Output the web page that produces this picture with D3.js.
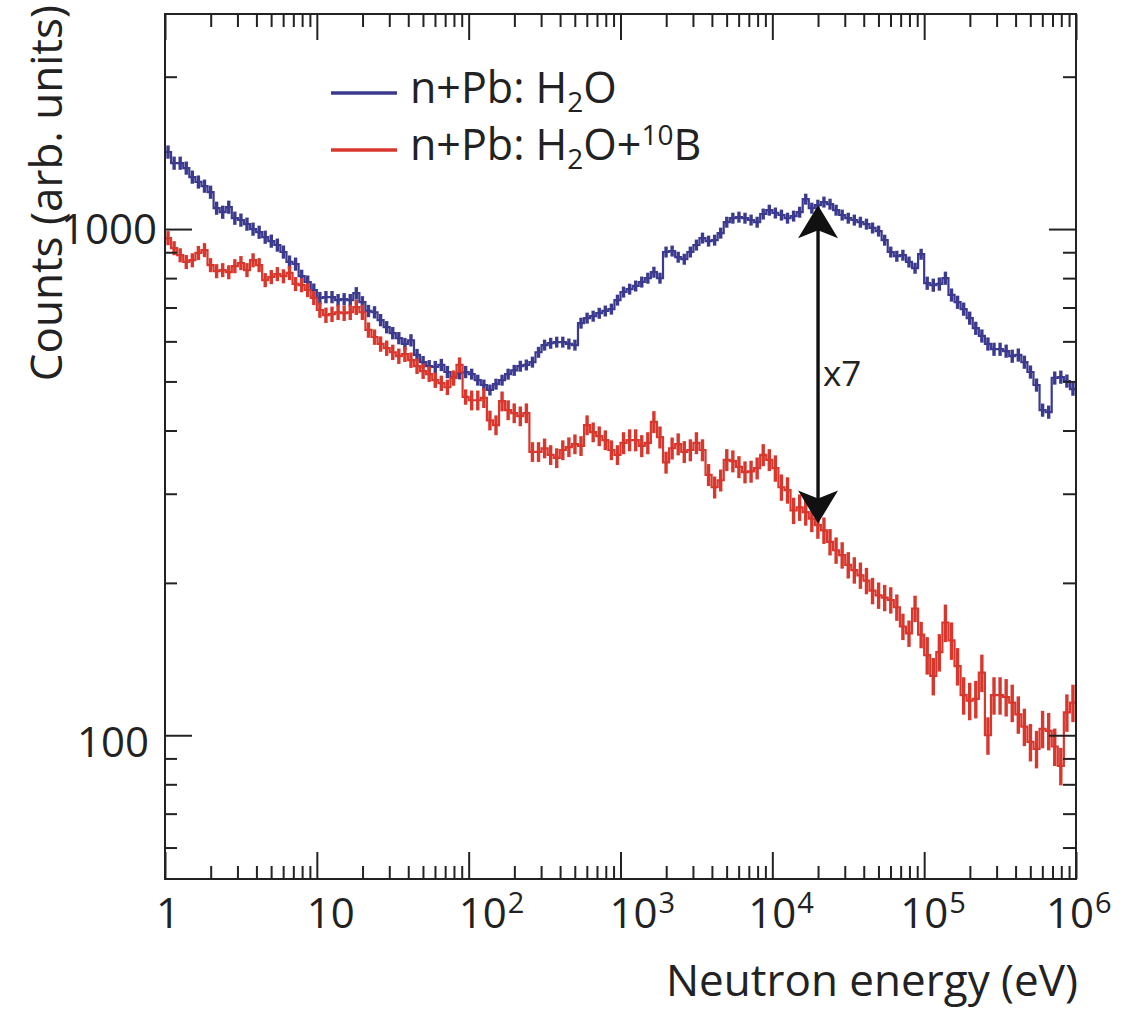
<!DOCTYPE html>
<html>
<head>
<meta charset="utf-8">
<script src="https://cdn.jsdelivr.net/npm/d3@7"></script>
<style>
  body { margin: 0; background: #fff; }
  svg { display: block; }
</style>
</head>
<body>
<svg id="chart" width="1132" height="1011"></svg>
<script>
// ---- Spectrum data: counts per logarithmic energy bin (25 bins per decade, 1 eV .. 1 MeV) ----
const binsPerDecade = 25;
const energyRange = [1, 1e6];
const countRange = [52, 2660];

// n+Pb, water moderator
const waterCounts = [
  1420,1350,1350,1320,1267,1239,1216,1183,1100,1080,1105,1051,1042,1023,1000,986,964,947,930,901,861,853,807,786,758,
  731,734,734,724,727,724,747,717,689,685,661,640,623,609,593,603,564,546,536,534,539,522,510,519,522,
  517,503,492,481,494,503,517,526,536,539,546,571,590,595,598,598,593,590,652,667,673,682,689,695,724,
  751,761,772,786,800,822,800,901,905,880,872,901,930,960,947,951,982,1032,1051,1056,1051,1042,1032,1071,1090,
  1076,1066,1051,1061,1080,1146,1100,1115,1131,1120,1090,1066,1051,1042,1032,1023,1005,991,951,901,884,888,861,837,892,
  782,775,779,800,741,717,695,667,637,615,593,579,579,574,561,564,546,522,492,439,435,508,510,501,483
];

// n+Pb, water moderator loaded with 10B
const boronCounts = [
  960,917,888,861,868,897,909,849,826,830,822,845,857,830,868,849,793,804,815,807,819,779,775,758,731,
  692,676,679,685,682,685,701,685,632,612,593,582,571,561,566,551,536,524,517,503,496,487,508,539,466,
  459,459,464,419,410,457,439,433,427,433,363,363,369,358,353,366,371,376,373,410,397,390,383,366,358,
  378,383,383,373,378,416,388,346,369,376,363,366,378,366,327,309,319,350,348,339,331,332,337,358,350,
  337,309,305,278,282,276,268,260,254,241,232,227,217,212,207,202,193,189,187,185,179,164,159,178,158,
  144,131,146,167,154,137,120,117,118,133,100,120,120,119,116,110,104,97,94,103,102,95,87,111,116
];

// relative statistical uncertainty, one value per energy decade
const waterRelErr = [0.030, 0.028, 0.025, 0.025, 0.025, 0.030];
const boronRelErr = [0.032, 0.035, 0.045, 0.050, 0.060, 0.085];

// axis ticks
const xMajorTicks = [1, 10, 1e2, 1e3, 1e4, 1e5, 1e6];
const yMajorTicks = [100, 1000];
const yMinorTicks = [60, 70, 80, 90, 200, 300, 400, 500, 600, 700, 800, 900, 2000];

// suppression marker between the two spectra
const markerEnergy = 2e4;
const markerCounts = [262, 1115];
const markerLabel = "x7";

const colors = { water: "#3b3a8e", boron: "#d8372d", axis: "#222" };
const font = "'Open Sans', 'Noto Sans', sans-serif";

// ---- Layout ----
const frame = { left: 165, right: 1076, top: 14, bottom: 879 };
const x = d3.scaleLog().domain(energyRange).range([frame.left, frame.right]);
const y = d3.scaleLog().domain(countRange).range([frame.bottom, frame.top]);

// hand-placed label nudges (px) for the x and y tick labels
const xLabelNudge = [3, 14, 14, 13, 0, 0, -6];
const yLabelNudge = [[-8, 7], [0, 0]];

const svg = d3.select("#chart");

svg.append("defs").append("clipPath").attr("id", "plotClip")
  .append("rect")
  .attr("x", frame.left).attr("y", frame.top)
  .attr("width", frame.right - frame.left).attr("height", frame.bottom - frame.top);

// bin edges in energy
const nBins = waterCounts.length;
const edges = d3.range(nBins + 1).map(k => Math.pow(10, k / binsPerDecade));

function drawHistogram(counts, relErr, color) {
  const g = svg.append("g").attr("clip-path", "url(#plotClip)");
  const pts = counts.map((v, i) => [edges[i], v]);
  pts.push([edges[nBins], counts[nBins - 1]]);
  const step = d3.line().x(d => x(d[0])).y(d => y(d[1])).curve(d3.curveStepAfter);

  g.selectAll("line.err").data(counts).join("line")
    .attr("class", "err")
    .attr("x1", (v, i) => x(Math.sqrt(edges[i] * edges[i + 1])))
    .attr("x2", (v, i) => x(Math.sqrt(edges[i] * edges[i + 1])))
    .attr("y1", (v, i) => y(v * (1 + relErr[Math.floor(i / binsPerDecade)])))
    .attr("y2", (v, i) => y(v * (1 - relErr[Math.floor(i / binsPerDecade)])))
    .attr("stroke", color).attr("stroke-width", 3.4);

  g.append("path").attr("d", step(pts))
    .attr("fill", "none").attr("stroke", color).attr("stroke-width", 2.2)
    .attr("stroke-linejoin", "miter");
}

drawHistogram(waterCounts, waterRelErr, colors.water);
drawHistogram(boronCounts, boronRelErr, colors.boron);

// ---- Axes: ticks on all four sides, pointing inward ----
const xMinorTicks = [];
for (let d = 0; d < 6; d++) for (let m = 2; m <= 9; m++) xMinorTicks.push(m * Math.pow(10, d));

function tickAxis(gen, tx, ty, values, size) {
  const g = svg.append("g").attr("transform", `translate(${tx},${ty})`)
    .call(gen.tickValues(values).tickSize(size).tickFormat(""));
  g.select(".domain").remove();
  g.selectAll(".tick line").attr("stroke", colors.axis).attr("stroke-width", 2);
  g.selectAll(".tick text").remove();
}

tickAxis(d3.axisBottom(x), 0, frame.bottom, xMajorTicks, -27);
tickAxis(d3.axisBottom(x), 0, frame.bottom, xMinorTicks, -13);
tickAxis(d3.axisTop(x), 0, frame.top, xMajorTicks, -26);
tickAxis(d3.axisTop(x), 0, frame.top, xMinorTicks, -13);
tickAxis(d3.axisLeft(y), frame.left, 0, yMajorTicks, -27);
tickAxis(d3.axisLeft(y), frame.left, 0, yMinorTicks, -12);
tickAxis(d3.axisRight(y), frame.right, 0, yMajorTicks, -27);
tickAxis(d3.axisRight(y), frame.right, 0, yMinorTicks, -13);

svg.append("rect")
  .attr("x", frame.left).attr("y", frame.top)
  .attr("width", frame.right - frame.left).attr("height", frame.bottom - frame.top)
  .attr("fill", "none").attr("stroke", colors.axis).attr("stroke-width", 2);

// x tick labels: 1, 10, 10^2 ... 10^6
const xLabelBase = frame.bottom + 49;
xMajorTicks.forEach((v, i) => {
  const e = Math.round(Math.log10(v));
  const cx = x(v) + xLabelNudge[i];
  const base = svg.append("text")
    .attr("x", cx).attr("y", xLabelBase)
    .attr("text-anchor", "middle")
    .attr("font-family", font).attr("font-size", 42).attr("fill", colors.axis)
    .text(e === 0 ? "1" : "10");
  if (e >= 2) {
    const w = base.node().getComputedTextLength();
    svg.append("text")
      .attr("x", cx + w / 2 + 1).attr("y", xLabelBase - 15)
      .attr("font-family", font).attr("font-size", 29).attr("fill", colors.axis)
      .text(String(e));
  }
});

// y tick labels
yMajorTicks.forEach((v, i) => {
  svg.append("text")
    .attr("x", frame.left - 8 + yLabelNudge[i][0]).attr("y", y(v) + 15 + yLabelNudge[i][1])
    .attr("text-anchor", "end")
    .attr("font-family", font).attr("font-size", 42).attr("fill", colors.axis)
    .text(String(v));
});

// axis titles
svg.append("text")
  .attr("x", frame.right + 2).attr("y", 996)
  .attr("text-anchor", "end")
  .attr("font-family", font).attr("font-size", 44).attr("fill", colors.axis)
  .text("Neutron energy (eV)");

svg.append("text")
  .attr("transform", "translate(62,5) rotate(-90)")
  .attr("text-anchor", "end")
  .attr("font-family", font).attr("font-size", 44).attr("fill", colors.axis)
  .text("Counts (arb. units)");

// ---- Legend ----
const legendEntries = [
  { color: colors.water, parts: [["n+Pb: H", 0], ["2", -1], ["O", 0]] },
  { color: colors.boron, parts: [["n+Pb: H", 0], ["2", -1], ["O+", 0], ["10", 1], ["B", 0]] }
];
const legendRows = [93, 150];
legendEntries.forEach((entry, k) => {
  const ly = legendRows[k];
  svg.append("line")
    .attr("x1", 331).attr("x2", 397).attr("y1", ly).attr("y2", ly)
    .attr("stroke", entry.color).attr("stroke-width", 3.5);
  const t = svg.append("text")
    .attr("x", 410).attr("y", ly + 10)
    .attr("font-family", font).attr("font-size", 43).attr("fill", colors.axis);
  let shift = 0;
  entry.parts.forEach(([s, pos]) => {
    const target = pos === -1 ? 9 : pos === 1 ? -15 : 0;
    t.append("tspan")
      .attr("dy", target - shift)
      .attr("font-size", pos === 0 ? 43 : 28)
      .text(s);
    shift = target;
  });
});

// ---- Ratio marker: double-headed arrow between the spectra ----
const mx = x(markerEnergy);
const yTop = y(markerCounts[1]);
const yBot = y(markerCounts[0]);
svg.append("line")
  .attr("x1", mx).attr("x2", mx).attr("y1", yTop + 20).attr("y2", yBot - 20)
  .attr("stroke", "#111").attr("stroke-width", 3.4);
const head = (tx, ty, dir) =>
  `M${tx},${ty} L${tx - 20},${ty + dir * 33} L${tx},${ty + dir * 25} L${tx + 20},${ty + dir * 33} Z`;
svg.append("path").attr("d", head(mx, yTop, 1)).attr("fill", "#111");
svg.append("path").attr("d", head(mx, yBot, -1)).attr("fill", "#111");
svg.append("text")
  .attr("x", mx + 5).attr("y", (yTop + yBot) / 2 + 22)
  .attr("font-family", font).attr("font-size", 35).attr("fill", colors.axis)
  .text(markerLabel);
</script>
</body>
</html>
